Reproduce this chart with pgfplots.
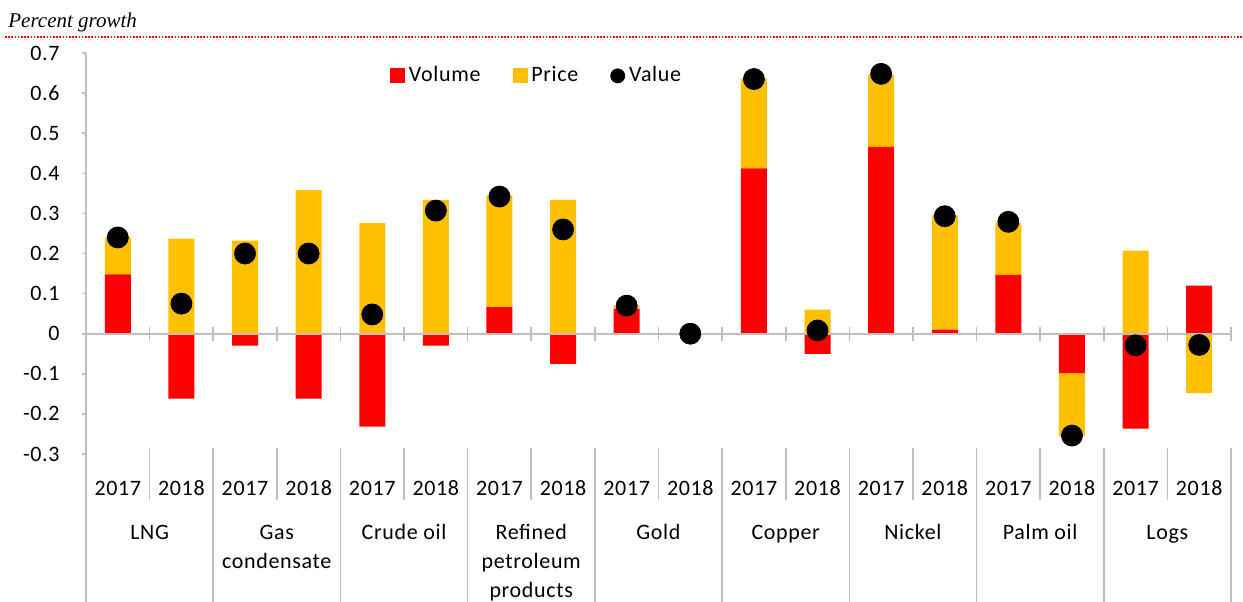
\documentclass[border=0pt]{standalone}
\usepackage{pgfplots}
\pgfplotsset{compat=1.18}
\usepackage{pgfplotstable}
\usepackage{fontspec}
\setmainfont[LetterSpace=3]{Carlito}
\newfontfamily\serifit{Liberation Serif}
\definecolor{vred}{HTML}{FF0000}
\definecolor{pyellow}{HTML}{FFC000}
\definecolor{axgray}{HTML}{BFBFBF}

% x: bar position; vol: volume contribution; price: price contribution; value: value growth
\pgfplotstableread{
x    vol     price   value
0.5  0.148   0.093   0.240
1.5  -0.162  0.237   0.075
2.5  -0.030  0.232   0.200
3.5  -0.162  0.358   0.200
4.5  -0.232  0.276   0.048
5.5  -0.030  0.334   0.307
6.5  0.066   0.279   0.342
7.5  -0.075  0.334   0.260
8.5  0.062   0.008   0.070
9.5  0.000   -0.004  0.000
10.5 0.412   0.224   0.635
11.5 -0.050  0.060   0.008
12.5 0.466   0.180   0.648
13.5 0.010   0.285   0.293
14.5 0.147   0.129   0.279
15.5 -0.098  -0.158  -0.254
16.5 -0.237  0.207   -0.029
17.5 0.120   -0.148  -0.028
}\data

\pgfplotsset{base/.style={at={(0,0)}, anchor=south west, scale only axis,
  width=572.5pt, height=200.5pt, xmin=0, xmax=18, ymin=-0.3, ymax=0.7,
  enlargelimits=false, clip=false}}
\tikzset{catlab/.style={anchor=north, align=center, inner sep=0pt, yshift=-32.4pt}}

\begin{document}
\begin{tikzpicture}[font=\fontsize{11}{14.5}\selectfont]
\useasboundingbox (-43pt,-73.5pt) rectangle (578.5pt,227pt);

% title area
\node[anchor=base west, inner sep=0pt, font=\serifit\itshape\fontsize{10.5}{12}\selectfont] at (-39pt,213.5pt) {Percent growth};
\draw[vred, line width=0.6pt, dash pattern=on 0.8pt off 0.8pt] (-40.5pt,208.5pt) -- (578.5pt,208.5pt);

% positive stacks
\begin{axis}[base, ybar stacked, bar width=13pt,
  axis y line*=left, axis x line*=bottom,
  x axis line style={draw=none},
  y axis line style={axgray, line width=0.8pt, -},
  xtick={0.5,1.5,...,17.5},
  xticklabels={2017,2018,2017,2018,2017,2018,2017,2018,2017,2018,2017,2018,2017,2018,2017,2018,2017,2018},
  xtick style={draw=none},
  xticklabel style={anchor=center, inner sep=0pt, yshift=-15pt},
  ytick={-0.3,-0.2,-0.1,0,0.1,0.2,0.3,0.4,0.5,0.6,0.7},
  ytick style={axgray, line width=0.8pt},
  tick align=outside, major tick length=2pt,
  yticklabel style={anchor=east, inner sep=0pt, xshift=-11pt},
  /pgf/number format/fixed, /pgf/number format/precision=1,
  /pgf/number format/assume math mode=true,
]
\addplot[fill=vred, draw=none] table[x=x, y expr={max(\thisrow{vol},0)}]{\data};
\addplot[fill=pyellow, draw=none] table[x=x, y expr={max(\thisrow{price},0)}]{\data};

\pgfplotsinvokeforeach{0,2,4,6,8,10,12,14,16,18}{
  \draw[axgray, line width=0.8pt] ([yshift=3pt]axis cs:#1,-0.3) -- ([yshift=-75pt]axis cs:#1,-0.3);
}
\pgfplotsinvokeforeach{1,3,5,7,9,11,13,15,17}{
  \draw[axgray, line width=0.8pt] ([yshift=3pt]axis cs:#1,-0.3) -- ([yshift=-23pt]axis cs:#1,-0.3);
}
\node[catlab] at (axis cs:1,-0.3) {\strut LNG};
\node[catlab] at (axis cs:3,-0.3) {\strut Gas\\condensate};
\node[catlab] at (axis cs:5,-0.3) {\strut Crude oil};
\node[catlab] at (axis cs:7,-0.3) {\strut Refined\\petroleum\\products};
\node[catlab] at (axis cs:9,-0.3) {\strut Gold};
\node[catlab] at (axis cs:11,-0.3) {\strut Copper};
\node[catlab] at (axis cs:13,-0.3) {\strut Nickel};
\node[catlab] at (axis cs:15,-0.3) {\strut Palm oil};
\node[catlab] at (axis cs:17,-0.3) {\strut Logs};
\end{axis}

% negative stacks
\begin{axis}[base, ybar stacked, bar width=13pt, hide axis]
\addplot[fill=vred, draw=none] table[x=x, y expr={min(\thisrow{vol},0)}]{\data};
\addplot[fill=pyellow, draw=none] table[x=x, y expr={min(\thisrow{price},0)}]{\data};
\end{axis}

% zero line, values and legend
\begin{axis}[base, hide axis,
  legend columns=3,
  legend style={at={(axis cs:7.1,0.643)}, anchor=center, draw=none, fill=none,
    font=\fontsize{11}{14.5}\selectfont,
    /tikz/every even column/.append style={column sep=14pt}},
]
\draw[axgray, line width=0.8pt] (axis cs:0,0) -- (axis cs:18,0);
\pgfplotsinvokeforeach{1,...,18}{
  \draw[axgray, line width=0.8pt] ([yshift=-3.5pt]axis cs:#1,0) -- ([yshift=3.5pt]axis cs:#1,0);
}
\addlegendimage{legend image code/.code={\fill[vred] (0pt,-3.5pt) rectangle (7pt,3.5pt);}}
\addlegendentry{Volume}
\addlegendimage{legend image code/.code={\fill[pyellow] (0pt,-3.5pt) rectangle (7pt,3.5pt);}}
\addlegendentry{Price}
\addplot[only marks, mark=*, mark size=5.25pt, black,
  legend image code/.code={\fill[black] (3.5pt,0pt) circle (3.5pt);}]
  table[x=x, y=value]{\data};
\addlegendentry{Value}
\end{axis}
\end{tikzpicture}
\end{document}
